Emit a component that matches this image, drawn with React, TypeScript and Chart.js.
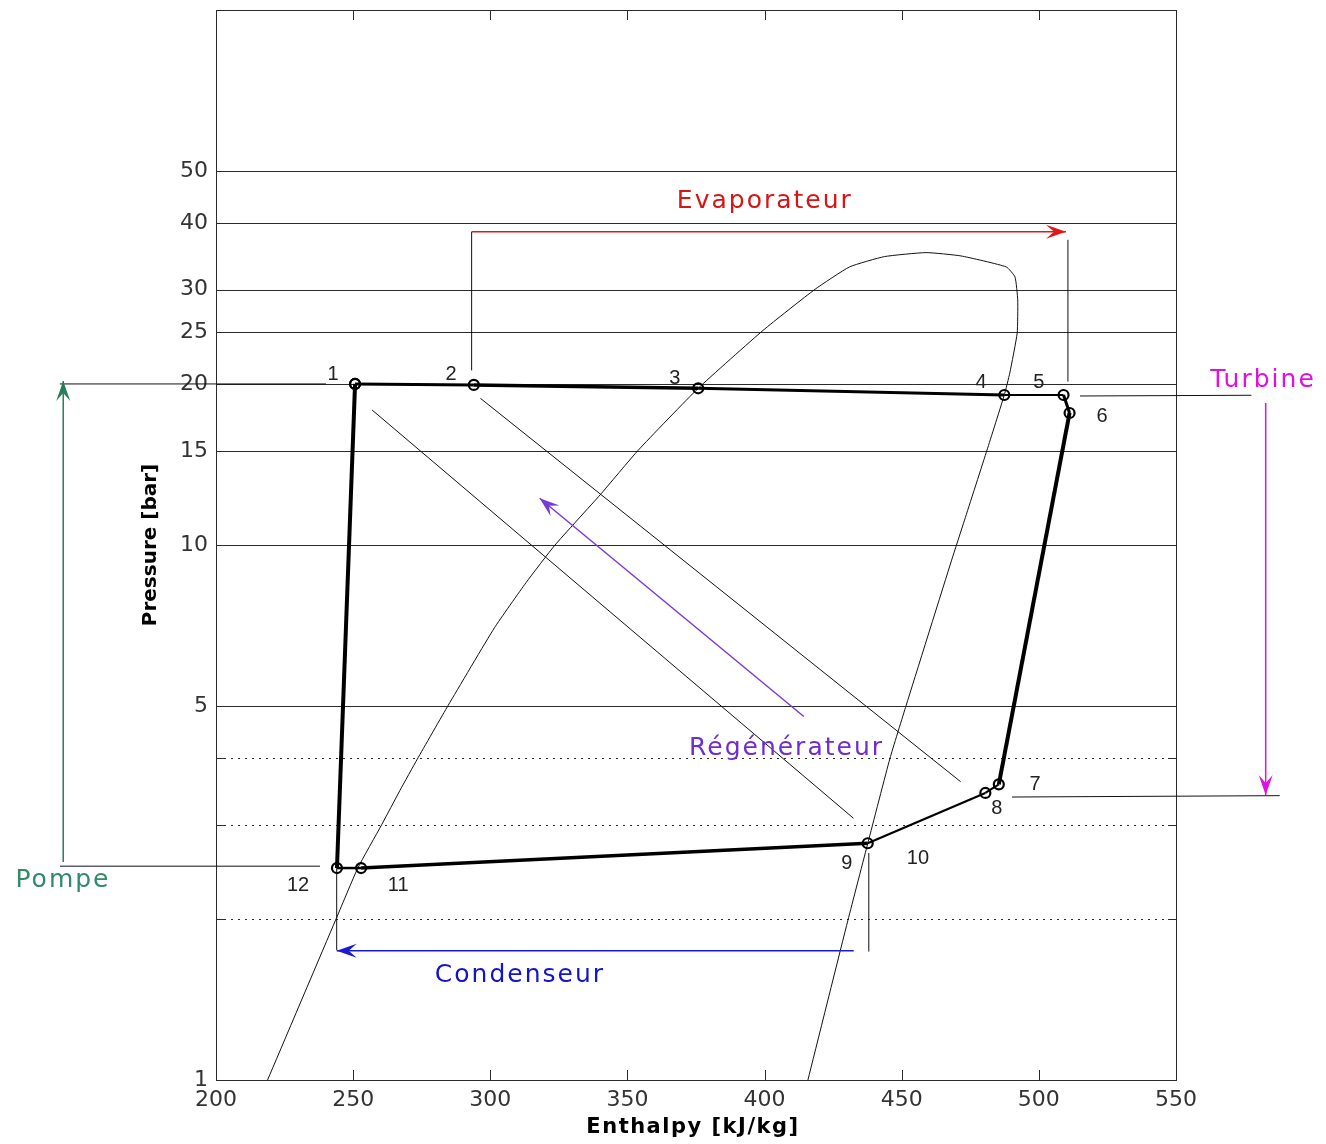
import React, { useEffect, useRef } from "react";
import { Chart, registerables } from "chart.js";

Chart.register(...registerables);

// ---- axes ----
const xTicks = [200, 250, 300, 350, 400, 450, 500, 550];
const yTickLabels = [1, 5, 10, 15, 20, 25, 30, 40, 50];
const ySolidGrid = [5, 10, 15, 20, 25, 30, 40, 50];
const yDottedGrid = [2, 3, 4];

// ---- saturation dome (enthalpy kJ/kg, pressure bar) ----
const domeH = [218.8, 243.6, 251.7, 260.4, 267.1, 273.4, 284.7, 301.5, 313.0, 323.6, 340.0, 354.0, 375.8, 399.5, 418.4, 431.0, 443.7, 458.9, 471.6, 488.1, 491.3, 492.3, 492.1, 489.4, 487.4, 481.1, 472.9, 468.2, 451.6, 445.7, 437.8, 430.4, 415.8];
const domeP = [1.0, 1.99, 2.49, 3.0, 3.48, 3.98, 5.02, 7.0, 8.5, 10.0, 12.4, 15.05, 19.63, 25.2, 30.06, 33.1, 34.6, 35.2, 34.7, 33.1, 31.7, 28.7, 24.9, 20.96, 19.07, 15.05, 11.13, 9.37, 5.01, 3.99, 2.79, 1.99, 1.0];

// ---- ORC cycle: 1,2,3,4,5,6,7,8,9,11,12,1 ----
const cycleH = [250.7, 294.0, 375.8, 487.4, 509.0, 511.2, 485.4, 480.5, 437.6, 252.9, 244.1, 250.7];
const cycleP = [20.0, 19.92, 19.63, 19.07, 19.07, 17.65, 3.57, 3.44, 2.77, 2.49, 2.49, 20.0];
const cycleSegWidths = [3, 3.5, 3, 2, 3, 4, 2, 2.2, 3.5, 2.5, 4];

// ---- state point labels ----
const pointLabels = ["1", "2", "3", "4", "5", "6", "7", "8", "9", "10", "11", "12"];
const pointLabelH = [242.7, 285.7, 367.3, 478.9, 500.0, 523.0, 498.6, 484.7, 430.0, 455.9, 266.4, 229.9];
const pointLabelP = [20.87, 20.87, 20.5, 20.1, 20.1, 17.42, 3.56, 3.22, 2.54, 2.6, 2.31, 2.31];

// ---- thin guide lines [h1, p1, h2, p2] ----
const guideLines = [
  [293.2, 38.5, 293.2, 21.2],
  [510.6, 37.2, 510.6, 20.2],
  [515.0, 18.99, 577.5, 19.05],
  [490.2, 3.38, 587.8, 3.4],
  [143.1, 20.0, 240.1, 20.0],
  [143.1, 2.51, 237.9, 2.51],
  [244.0, 2.49, 244.0, 1.75],
  [438.0, 2.657, 438.0, 1.738],
  [256.9, 17.88, 432.4, 3.085],
  [296.4, 18.8, 471.5, 3.61],
];

// ---- component arrows [h_from, p_from, h_to, p_to] ----
const arrowLines = [
  [293.2, 38.5, 509.9, 38.5],
  [582.7, 18.43, 582.7, 3.41],
  [432.5, 1.745, 244.0, 1.745],
  [144.3, 2.556, 144.3, 20.26],
  [414.3, 4.78, 318.0, 12.23],
];
const arrowColors = ["#e01818", "#e010e0", "#1a1ad0", "#2a7d5c", "#7a3ad8"];

// ---- component names ----
const componentNames = ["Evaporateur", "Turbine", "Condenseur", "Pompe", "Régénérateur"];
const componentH = [400.1, 581.7, 310.8, 144.2, 408.0];
const componentP = [43.8, 20.3, 1.571, 2.365, 4.17];
const componentColors = ["#d81414", "#e010e0", "#1414c8", "#348a68", "#6f2cd0"];

const xTitle = "Enthalpy [kJ/kg]";
const yTitle = "Pressure [bar]";

function drawArrowHead(ctx: CanvasRenderingContext2D, x1: number, y1: number, x2: number, y2: number, color: string) {
  const ang = Math.atan2(y2 - y1, x2 - x1);
  const len = 20;
  const half = 7;
  const notch = 12;
  const cos = Math.cos(ang), sin = Math.sin(ang);
  const bx = x2 - len * cos, by = y2 - len * sin;
  const nx = x2 - notch * cos, ny = y2 - notch * sin;
  ctx.beginPath();
  ctx.moveTo(x2, y2);
  ctx.lineTo(bx - half * sin, by + half * cos);
  ctx.lineTo(nx, ny);
  ctx.lineTo(bx + half * sin, by - half * cos);
  ctx.closePath();
  ctx.fillStyle = color;
  ctx.fill();
}

const decor = {
  id: "decor",
  beforeDatasetsDraw(chart: any) {
    const { ctx, chartArea: a, scales } = chart;
    const x = scales.x, y = scales.y;
    ctx.save();
    ctx.strokeStyle = "#2a2a2a";
    ctx.lineWidth = 1;
    for (const v of ySolidGrid) {
      const yy = Math.round(y.getPixelForValue(v)) + 0.5;
      ctx.beginPath();
      ctx.moveTo(a.left, yy);
      ctx.lineTo(a.right, yy);
      ctx.stroke();
    }
    ctx.setLineDash([2, 5]);
    for (const v of yDottedGrid) {
      const yy = Math.round(y.getPixelForValue(v)) + 0.5;
      ctx.beginPath();
      ctx.moveTo(a.left + 8, yy);
      ctx.lineTo(a.right - 8, yy);
      ctx.stroke();
    }
    ctx.setLineDash([]);
    for (const v of yDottedGrid) {
      const yy = Math.round(y.getPixelForValue(v)) + 0.5;
      ctx.beginPath();
      ctx.moveTo(a.left, yy);
      ctx.lineTo(a.left + 8, yy);
      ctx.moveTo(a.right - 8, yy);
      ctx.lineTo(a.right, yy);
      ctx.stroke();
    }
    for (const v of xTicks.slice(1, -1)) {
      const xx = Math.round(x.getPixelForValue(v)) + 0.5;
      ctx.beginPath();
      ctx.moveTo(xx, a.top);
      ctx.lineTo(xx, a.top + 10);
      ctx.moveTo(xx, a.bottom);
      ctx.lineTo(xx, a.bottom - 10);
      ctx.stroke();
    }
    ctx.strokeRect(Math.round(a.left) + 0.5, Math.round(a.top) + 0.5, Math.round(a.right - a.left), Math.round(a.bottom - a.top));
    ctx.restore();
  },
  afterDatasetsDraw(chart: any) {
    const { ctx, scales } = chart;
    const x = scales.x, y = scales.y;
    const X = (h: number) => x.getPixelForValue(h);
    const Y = (p: number) => y.getPixelForValue(p);
    ctx.save();
    // guide lines
    ctx.strokeStyle = "#111";
    ctx.lineWidth = 1;
    for (const [h1, p1, h2, p2] of guideLines) {
      ctx.beginPath();
      ctx.moveTo(X(h1), Y(p1));
      ctx.lineTo(X(h2), Y(p2));
      ctx.stroke();
    }
    // arrows
    arrowLines.forEach(([h1, p1, h2, p2], i) => {
      const x1 = X(h1), y1 = Y(p1), x2 = X(h2), y2 = Y(p2);
      ctx.strokeStyle = arrowColors[i];
      ctx.lineWidth = 1.5;
      ctx.beginPath();
      ctx.moveTo(x1, y1);
      ctx.lineTo(x2, y2);
      ctx.stroke();
      drawArrowHead(ctx, x1, y1, x2, y2, arrowColors[i]);
    });
    // point labels
    ctx.fillStyle = "#222";
    ctx.font = "20px 'Liberation Sans', Arial, sans-serif";
    ctx.textAlign = "center";
    ctx.textBaseline = "middle";
    pointLabels.forEach((t, i) => ctx.fillText(t, X(pointLabelH[i]), Y(pointLabelP[i])));
    // component labels
    ctx.font = "25px 'DejaVu Sans', sans-serif";
    try { (ctx as any).letterSpacing = "2px"; } catch (e) {}
    componentNames.forEach((t, i) => {
      ctx.fillStyle = componentColors[i];
      ctx.fillText(t, X(componentH[i]), Y(componentP[i]));
    });
    // axis titles
    ctx.fillStyle = "#000";
    try { (ctx as any).letterSpacing = "1.5px"; } catch (e) {}
    ctx.font = "bold 21px 'DejaVu Sans', sans-serif";
    ctx.fillText(xTitle, 693, 1128);
    try { (ctx as any).letterSpacing = "0px"; } catch (e) {}
    ctx.font = "bold 20px 'DejaVu Sans', sans-serif";
    ctx.translate(151, 545);
    ctx.rotate(-Math.PI / 2);
    ctx.fillText(yTitle, 0, 0);
    ctx.restore();
  },
};

export default function App() {
  const ref = useRef<HTMLCanvasElement>(null);
  useEffect(() => {
    const canvas = ref.current!;
    const tickFont = { family: "'DejaVu Sans', sans-serif", size: 22 };
    const chart = new Chart(canvas, {
      type: "scatter",
      data: {
        datasets: [
          {
            label: "cycle",
            data: cycleH.map((h, i) => ({ x: h, y: cycleP[i] })),
            showLine: true,
            borderColor: "#000",
            borderWidth: 3,
            pointRadius: 5,
            pointBorderWidth: 2.2,
            pointBackgroundColor: "rgba(255,255,255,0)",
            pointBorderColor: "#000",
            segment: { borderWidth: (c: any) => cycleSegWidths[c.p0DataIndex] },
          } as any,
          {
            label: "dome",
            data: domeH.map((h, i) => ({ x: h, y: domeP[i] })),
            showLine: true,
            borderColor: "#111",
            borderWidth: 1,
            pointRadius: 0,
            tension: 0.15,
          } as any,
        ],
      },
      options: {
        responsive: false,
        animation: false,
        devicePixelRatio: 1,
        layout: { padding: { left: 0, right: 150, top: 10, bottom: 0 } },
        plugins: { legend: { display: false }, tooltip: { enabled: false } },
        scales: {
          x: {
            type: "linear",
            min: 200,
            max: 550,
            afterBuildTicks: (s: any) => { s.ticks = xTicks.map((v) => ({ value: v })); },
            afterFit: (s: any) => { s.height = 64; s.paddingLeft = 0; s.paddingRight = 0; },
            grid: { display: false, drawTicks: false },
            border: { display: false },
            ticks: { font: tickFont, color: "#333", padding: 7, autoSkip: false, maxRotation: 0, callback: (v: any) => String(v) },
          },
          y: {
            type: "logarithmic",
            min: 1,
            max: 100,
            afterBuildTicks: (s: any) => { s.ticks = yTickLabels.map((v) => ({ value: v })); },
            afterFit: (s: any) => { s.width = 216; s.paddingTop = 0; s.paddingBottom = 0; },
            grid: { display: false, drawTicks: false },
            border: { display: false },
            ticks: { font: tickFont, color: "#333", padding: 8, autoSkip: false, callback: (v: any) => String(v) },
          },
        },
      } as any,
      plugins: [decor],
    });
    return () => chart.destroy();
  }, []);
  return (
    <div style={{ position: "absolute", left: 0, top: 0, width: 1326, height: 1144, background: "#fff" }}>
      <canvas ref={ref} width={1326} height={1144} style={{ display: "block", width: 1326, height: 1144 }} />
    </div>
  );
}
